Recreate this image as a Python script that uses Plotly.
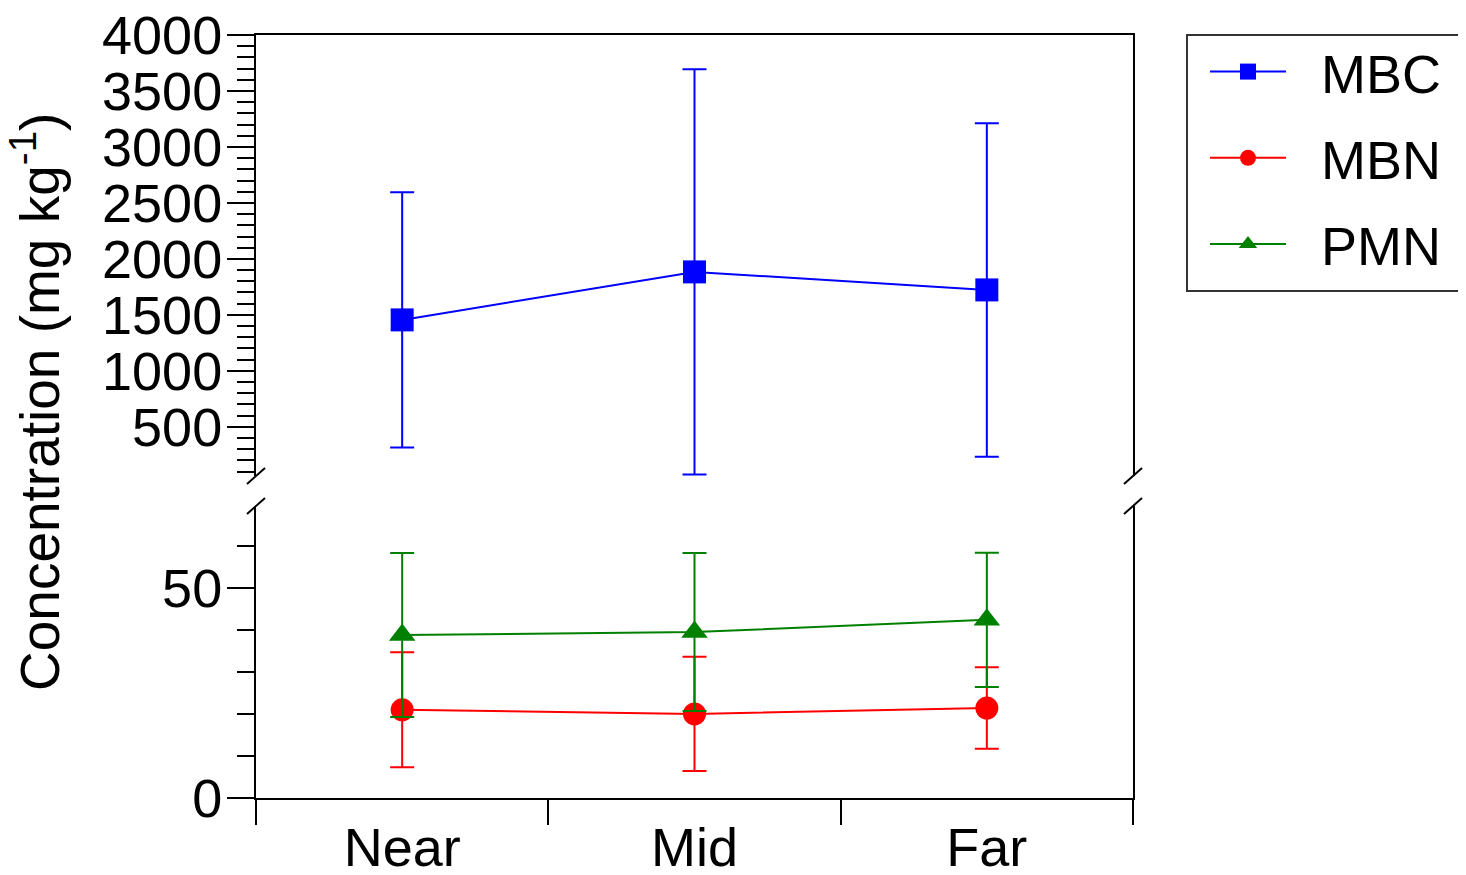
import plotly.graph_objects as go

categories = ["Near", "Mid", "Far"]
mbc_mean = [1455, 1884, 1723]
mbc_err = [1140, 1810, 1490]
mbn_mean = [21.0, 20.0, 21.4]
mbn_err = [13.7, 13.6, 9.7]
pmn_mean = [38.8, 39.5, 42.4]
pmn_err = [19.5, 18.8, 16.0]

x_idx = list(range(len(categories)))
FONT = "Liberation Sans, Arial, Helvetica, sans-serif"
BLUE, RED, GREEN = "#0000ff", "#ff0000", "#008000"
NB = "\u00a0\u00a0"

fig = go.Figure()

def add(name, y, err, color, symbol, xa, ya):
    fig.add_trace(go.Scatter(
        x=x_idx, y=y, name=NB + name, mode="lines+markers",
        line=dict(color=color, width=2),
        marker=dict(color=color, symbol=symbol, size=23, line=dict(width=0)),
        error_y=dict(type="data", array=err, visible=True, color=color, thickness=2, width=12),
        xaxis=xa, yaxis=ya, legendgroup=name,
    ))

add("MBC", mbc_mean, mbc_err, BLUE, "square", "x2", "y2")
add("MBN", mbn_mean, mbn_err, RED, "circle", "x", "y")
add("PMN", pmn_mean, pmn_err, GREEN, "triangle-up", "x", "y")

# page body has an 8px margin; figure sized so that plot lands at reference pixels
OFF = 8
PL, PR, PT, PB = 256, 1133, 35, 798   # plot area in page pixels
W, H = 1466 - OFF, 875 - OFF
PW, PH = PR - PL, PB - PT

def px_x(p):
    return (p - PL) / PW

def px_y(p):
    return (PB - p) / PH

top_dom = [px_y(476), 1.0]
bot_dom = [0.0, px_y(506)]

fig.update_layout(
    template="none",
    width=W, height=H,
    margin=dict(l=PL - OFF, r=W - (PR - OFF), t=PT - OFF, b=H - (PB - OFF), pad=0),
    plot_bgcolor="white", paper_bgcolor="white",
    font=dict(family=FONT, size=52, color="black"),
    showlegend=True,
    legend=dict(x=px_x(1205), y=px_y(30), xanchor="left", yanchor="top",
                bgcolor="rgba(0,0,0,0)", borderwidth=0, tracegroupgap=13,
                font=dict(size=54, family=FONT), itemwidth=76),
    xaxis=dict(
        domain=[0, 1], range=[-0.5, 2.5], anchor="y", automargin=False,
        tickmode="array", tickvals=x_idx, ticktext=categories,
        ticks="outside", ticklen=1, tickcolor="rgba(0,0,0,0)",
        minor=dict(tickmode="linear", tick0=-0.5, dtick=1, ticks="outside",
                   ticklen=25, tickwidth=2, tickcolor="black"),
        showline=True, linecolor="black", linewidth=2, showgrid=False, zeroline=False,
        tickfont=dict(size=54), ticklabeloverflow="allow",
    ),
    yaxis=dict(
        domain=bot_dom, range=[0, 69.5], anchor="x", automargin=False,
        tickmode="linear", tick0=0, dtick=50,
        ticks="outside", ticklen=27, tickwidth=2, tickcolor="black",
        minor=dict(dtick=10, ticks="outside", ticklen=17, tickwidth=2, tickcolor="black"),
        showline=True, mirror=True, linecolor="black", linewidth=2,
        showgrid=False, zeroline=False, tickfont=dict(size=54),
        ticklabelstandoff=-6, ticklabeloverflow="allow",
    ),
    xaxis2=dict(
        domain=[0, 1], range=[-0.5, 2.5], anchor="y2", side="top", automargin=False,
        showticklabels=False, ticks="", showline=True, linecolor="black", linewidth=2,
        showgrid=False, zeroline=False,
    ),
    yaxis2=dict(
        domain=top_dom, range=[60, 4001], anchor="x2", automargin=False,
        tickmode="linear", tick0=0, dtick=500,
        ticks="outside", ticklen=27, tickwidth=2, tickcolor="black",
        minor=dict(dtick=100, ticks="outside", ticklen=17, tickwidth=2, tickcolor="black"),
        showline=True, mirror=True, linecolor="black", linewidth=2,
        showgrid=False, zeroline=False, tickfont=dict(size=54),
        ticklabelstandoff=-6, ticklabeloverflow="allow",
    ),
)

# axis break marks
shapes = []
for xa in (0, 1):
    for ya in (top_dom[0], bot_dom[1]):
        shapes.append(dict(type="line", xref="paper", yref="paper",
                           xsizemode="pixel", ysizemode="pixel",
                           xanchor=xa, yanchor=ya, x0=-9, x1=9, y0=-8, y1=8,
                           line=dict(color="black", width=2)))
# legend box
shapes.append(dict(type="rect", xref="paper", yref="paper",
                   x0=px_x(1187), x1=px_x(1475), y0=px_y(291), y1=1.0,
                   line=dict(color="#333333", width=2), fillcolor="rgba(0,0,0,0)"))
fig.update_layout(shapes=shapes)

fig.add_annotation(text="Concentration (mg kg<sup>-1</sup>)", xref="paper", yref="paper",
                   x=px_x(36), y=px_y(402), xanchor="center", yanchor="middle",
                   textangle=-90, showarrow=False, font=dict(size=55, family=FONT))

fig.write_html("out.html")
